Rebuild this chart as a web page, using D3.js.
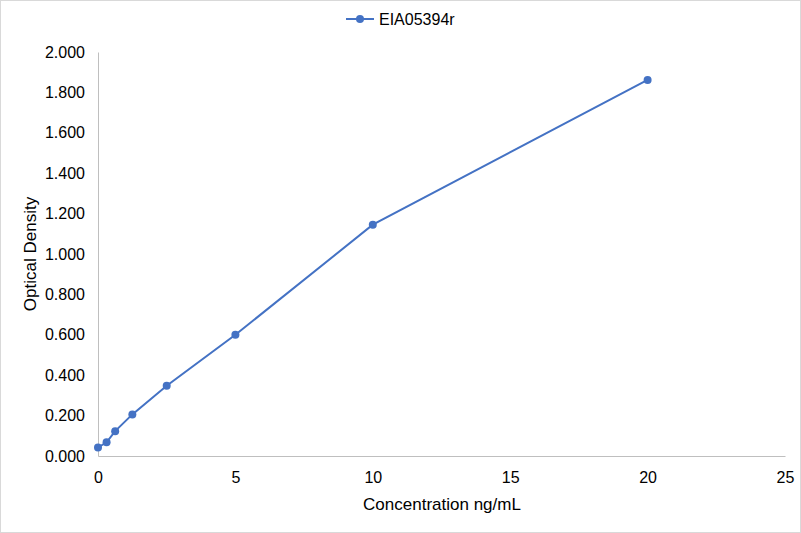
<!DOCTYPE html>
<html>
<head>
<meta charset="utf-8">
<script src="https://cdn.jsdelivr.net/npm/d3@7"></script>
<style>
  body { margin: 0; background: #fff; }
  svg { display: block; font-family: Arial, "Liberation Sans", sans-serif; }
</style>
</head>
<body>
<div id="chart"></div>
<script>
const seriesName = "EIA05394r";
const concentrations = [0, 0.3125, 0.625, 1.25, 2.5, 5, 10, 20];
const densities = [0.042, 0.068, 0.123, 0.206, 0.348, 0.600, 1.145, 1.862];
const xTicks = [0, 5, 10, 15, 20, 25];
const yTicks = [0, 0.2, 0.4, 0.6, 0.8, 1.0, 1.2, 1.4, 1.6, 1.8, 2.0];

const W = 801, H = 533;
let margin = {top: 52, right: 16, bottom: 77, left: 98},
    width = W - margin.left - margin.right,
    height = H - margin.top - margin.bottom;

const svg = d3.select("#chart").append("svg")
    .attr("width", W)
    .attr("height", H);

// outer frame
svg.append("rect")
    .attr("x", 0.5).attr("y", 0.5)
    .attr("width", W - 1).attr("height", H - 1)
    .attr("fill", "#fff").attr("stroke", "#d9d9d9");

const g = svg.append("g")
    .attr("transform", `translate(${margin.left},${margin.top})`);

let x = d3.scaleLinear().domain([0, 25]).range([0, 687]);
let y = d3.scaleLinear().domain([0, 2]).range([404, 0]);

const xAxis = g.append("g")
    .attr("transform", `translate(0,${y(0)})`)
    .call(d3.axisBottom(x).tickValues(xTicks).tickSize(0).tickPadding(16));
xAxis.select(".domain").attr("stroke", "#bfbfbf");
xAxis.selectAll("text").attr("font-size", 16).attr("fill", "#000");

const yAxis = g.append("g")
    .call(d3.axisLeft(y).tickValues(yTicks).tickSize(0).tickPadding(13).tickFormat(d3.format(".3f")));
yAxis.select(".domain").attr("stroke", "#bfbfbf");
yAxis.selectAll("text").attr("font-size", 16).attr("fill", "#000");

const pts = concentrations.map((c, i) => ({c, d: densities[i]}));

g.append("path")
    .datum(pts)
    .attr("fill", "none")
    .attr("stroke", "#4472c4")
    .attr("stroke-width", 2)
    .attr("d", d3.line().x(p => x(p.c)).y(p => y(p.d)));

g.selectAll("circle.pt")
    .data(pts)
    .join("circle")
    .attr("class", "pt")
    .attr("cx", p => x(p.c))
    .attr("cy", p => y(p.d))
    .attr("r", 4)
    .attr("fill", "#4472c4");

// axis titles
svg.append("text")
    .attr("x", 442)
    .attr("y", 510)
    .attr("text-anchor", "middle")
    .attr("font-size", 17)
    .text("Concentration ng/mL");

svg.append("text")
    .attr("transform", `translate(36,${margin.top + y(1)}) rotate(-90)`)
    .attr("text-anchor", "middle")
    .attr("font-size", 17)
    .text("Optical Density");

// legend
const leg = svg.append("g").attr("transform", "translate(346,19)");
leg.append("line").attr("x1", 0).attr("x2", 28).attr("y1", 0).attr("y2", 0)
    .attr("stroke", "#4472c4").attr("stroke-width", 2);
leg.append("circle").attr("cx", 14).attr("cy", 0).attr("r", 4).attr("fill", "#4472c4");
leg.append("text").attr("x", 33).attr("y", 6).attr("font-size", 16).text(seriesName);
</script>
</body>
</html>
